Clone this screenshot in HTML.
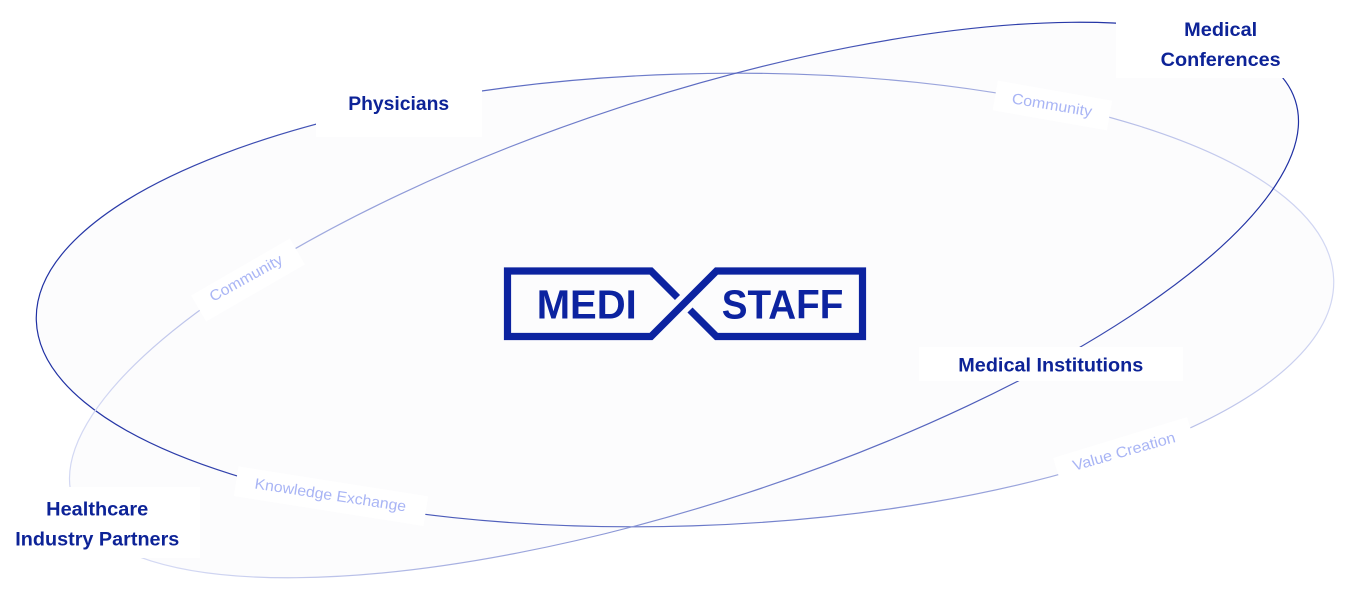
<!DOCTYPE html>
<html>
<head>
<meta charset="utf-8">
<style>
  html, body { margin: 0; padding: 0; background: #ffffff; width: 1370px; height: 598px; overflow: hidden; }
  svg { display: block; position: absolute; left: 0; top: 0; }
  .lbl { font-family: "Liberation Sans", sans-serif; font-weight: bold; font-size: 19.5px; fill: #0d2397; }
  .edge { font-family: "Liberation Sans", sans-serif; font-size: 15px; fill: #a9b5f5; }
  .logo { font-family: "Liberation Sans", sans-serif; font-weight: bold; font-size: 41px; fill: #0c23a0; }
</style>
</head>
<body>
<svg width="1370" height="598" viewBox="0 0 1370 598" xmlns="http://www.w3.org/2000/svg">
  <defs>
    <linearGradient id="g1" gradientUnits="userSpaceOnUse" x1="60" y1="420" x2="1320" y2="180">
      <stop offset="0" stop-color="#1f30a3"/>
      <stop offset="0.45" stop-color="#6574c6"/>
      <stop offset="1" stop-color="#d3d8f3"/>
    </linearGradient>
    <linearGradient id="g2" gradientUnits="userSpaceOnUse" x1="180" y1="560" x2="1150" y2="40">
      <stop offset="0" stop-color="#d3d8f3"/>
      <stop offset="0.5" stop-color="#6f7dca"/>
      <stop offset="1" stop-color="#1f30a3"/>
    </linearGradient>
  </defs>

  <!-- fills -->
  <path d="M 36.3 320.4 A 649 226 -1.8 0 1 1333.7 279.6 A 649 226 -1.8 0 1 36.3 320.4 Z" fill="#fcfcfd"/>
  <path d="M 72.8 499.8 A 643 203 -18.1 0 1 1295.2 100.2 A 643 203 -18.1 0 1 72.8 499.8 Z" fill="#fcfcfd"/>

  <!-- strokes -->
  <path d="M 36.3 320.4 A 649 226 -1.8 0 1 1333.7 279.6 A 649 226 -1.8 0 1 36.3 320.4 Z" fill="none" stroke="url(#g1)" stroke-width="1.2"/>
  <path d="M 72.8 499.8 A 643 203 -18.1 0 1 1295.2 100.2 A 643 203 -18.1 0 1 72.8 499.8 Z" fill="none" stroke="url(#g2)" stroke-width="1.2"/>

  <!-- label boxes -->
  <rect x="316" y="60" width="166" height="77" fill="#ffffff"/>
  <rect x="1116" y="4" width="212" height="74" fill="#ffffff"/>
  <rect x="919" y="347" width="264" height="34" fill="#ffffff"/>
  <rect x="0" y="487" width="200" height="71" fill="#ffffff"/>

  <g transform="translate(248 280) rotate(-30)"><rect x="-57" y="-15" width="114" height="30" fill="#ffffff"/></g>
  <g transform="translate(1052.4 105.5) rotate(10)"><rect x="-58" y="-15" width="116" height="30" fill="#ffffff"/></g>
  <g transform="translate(331 496.2) rotate(9)"><rect x="-96" y="-15" width="192" height="30" fill="#ffffff"/></g>
  <g transform="translate(1124.5 451.9) rotate(-17)"><rect x="-70" y="-15" width="140" height="30" fill="#ffffff"/></g>

  <!-- main labels -->
  <text class="lbl" x="398.7" y="110" text-anchor="middle" textLength="101" lengthAdjust="spacingAndGlyphs">Physicians</text>
  <text class="lbl" x="1220.7" y="36" text-anchor="middle" textLength="73" lengthAdjust="spacingAndGlyphs">Medical</text>
  <text class="lbl" x="1220.7" y="66" text-anchor="middle" textLength="120" lengthAdjust="spacingAndGlyphs">Conferences</text>
  <text class="lbl" x="1050.8" y="371.7" text-anchor="middle" textLength="185" lengthAdjust="spacingAndGlyphs">Medical Institutions</text>
  <text class="lbl" x="97.2" y="515.7" text-anchor="middle" textLength="102" lengthAdjust="spacingAndGlyphs">Healthcare</text>
  <text class="lbl" x="97.3" y="545.7" text-anchor="middle" textLength="164" lengthAdjust="spacingAndGlyphs">Industry Partners</text>

  <!-- edge labels -->
  <g transform="translate(246 278) rotate(-29)"><text class="edge" x="0" y="5" text-anchor="middle" textLength="81" lengthAdjust="spacingAndGlyphs">Community</text></g>
  <g transform="translate(1052 105) rotate(9.5)"><text class="edge" x="0" y="5" text-anchor="middle" textLength="81" lengthAdjust="spacingAndGlyphs">Community</text></g>
  <g transform="translate(330.5 495) rotate(8.7)"><text class="edge" x="0" y="5" text-anchor="middle" textLength="153" lengthAdjust="spacingAndGlyphs">Knowledge Exchange</text></g>
  <g transform="translate(1124 451.5) rotate(-15.9)"><text class="edge" x="0" y="5" text-anchor="middle" textLength="106" lengthAdjust="spacingAndGlyphs">Value Creation</text></g>

  <!-- logo -->
  <path d="M 677.5 297.5 L 651 271 L 507.5 271 L 507.5 336.5 L 651 336.5 L 716.5 271 L 862.5 271 L 862.5 336.5 L 716.5 336.5 L 690 310"
        fill="none" stroke="#0c23a0" stroke-width="7.2" stroke-linejoin="miter" stroke-linecap="butt"/>
  <text class="logo" x="536.7" y="318.3" textLength="100" lengthAdjust="spacingAndGlyphs">MEDI</text>
  <text class="logo" x="721.7" y="318.3" textLength="121.6" lengthAdjust="spacingAndGlyphs">STAFF</text>
</svg>
</body>
</html>
